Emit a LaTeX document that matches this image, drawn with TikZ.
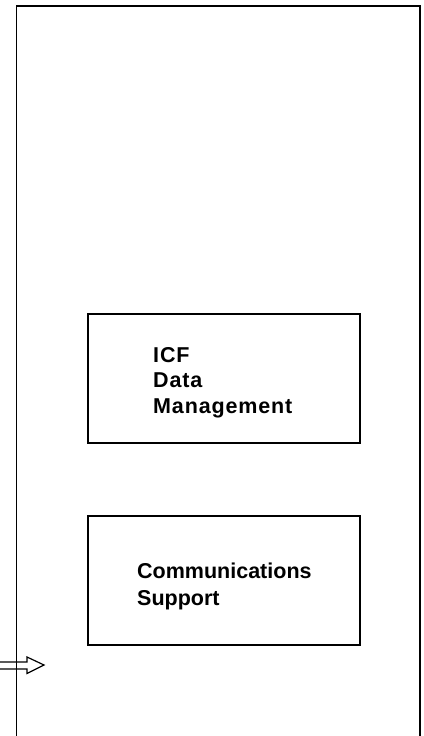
\documentclass[tikz,border=0pt]{standalone}
\usepackage{fontspec}
\setmainfont{Liberation Sans}
\newfontfamily\widesans[LetterSpace=4]{Liberation Sans}
\begin{document}
\begin{tikzpicture}[x=1pt,y=-1pt,
  frame/.style={line width=1.8pt,line cap=round},
  box/.style={draw,line width=1.5pt,inner sep=0pt,anchor=north west},
  lbl/.style={anchor=base west,inner sep=0pt,font=\bfseries\fontsize{21.5}{26}\selectfont},
  widelbl/.style={lbl,font=\widesans\bfseries\fontsize{21.5}{26}\selectfont},
  outarrow/.style={line width=1.2pt,line join=miter}]
\useasboundingbox (0,0) rectangle (423,736);
% outer frame (open at bottom)
\coordinate (fbl) at (16.5,740);
\coordinate (ftl) at (16.5,6);
\coordinate (ftr) at (420,6);
\coordinate (fbr) at (420,740);
\draw[frame] (fbl) -- (ftl) -- (ftr) -- (fbr);
% boxes
\node[box,minimum width=272pt,minimum height=129pt] (icf) at (87,313) {};
\node[box,minimum width=272pt,minimum height=129pt] (comm) at (87,515) {};
% labels
\node[widelbl] (l1) at (153,362) {ICF};
\node[widelbl] (l2) at (153,387.5) {Data};
\node[widelbl] (l3) at (153,413) {Management};
\node[lbl] (l4) at (137,578) {Communications};
\node[lbl] (l5) at (137,605) {Support};
% outlined arrow entering from the left
\coordinate (atail) at (-2,665.5);
\coordinate (atip) at (44,665);
\draw[outarrow] (-2,662) -- (27,662) -- (27,657) -- (atip) -- (27,673.5) -- (27,669) -- (-2,669);
\end{tikzpicture}
\end{document}
